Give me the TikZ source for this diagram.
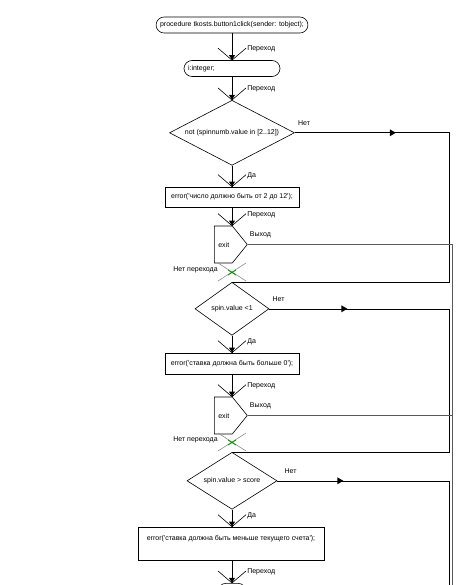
\documentclass[tikz,border=0pt]{standalone}
\usepackage{fontspec}
\setmainfont{Liberation Sans}
\usetikzlibrary{arrows.meta, shapes.geometric, shapes.symbols, decorations.markings}
\tikzset{
  kstart/.style={draw, rounded corners=8pt, minimum height=16pt, inner xsep=4pt},
  kbox/.style={draw, align=left, minimum height=20pt, inner xsep=6pt},
  kdecision/.style={draw, diamond, inner sep=0pt, anchor=north},
  kexit/.style={draw, signal, signal to=east, signal pointer angle=102, minimum height=37pt,
    text width=10pt, inner xsep=4pt, inner ysep=0pt, align=left, anchor=west},
  flow/.style={draw=black},
  rail/.style={draw=black!65},
  trans/.style={postaction={decorate}, decoration={markings, mark=at position 0.999 with {
      \fill (-5pt,3pt) -- (0,0) -- (-5pt,-3pt) -- cycle;
      \draw (-12pt,14pt) -- (0,0) -- (-12pt,-14pt);}}},
  nobranch/.style={postaction={decorate}, decoration={markings, mark=at position #1 with {
      \fill (-3pt,3.5pt) -- (3pt,0) -- (-3pt,-3.5pt) -- cycle;}}},
  lbl/.style={anchor=west, xshift=15pt, yshift=11pt, inner sep=0pt},
  nlbl/.style={anchor=west, xshift=3pt, yshift=10pt, inner sep=0pt},
  cross/.style={black!45},
  hit/.style={green!60!black, line width=0.8pt},
}

\begin{document}
\begin{tikzpicture}[x=1pt, y=-1pt, line width=0.6pt, font=\fontsize{7}{8.2}\selectfont]
  \useasboundingbox (0,0) rectangle (460,585);
  \clip (0,0) rectangle (460,585);
  % main column
  \node[kstart] (start) at (232,25) {procedure tkosts.button1click(sender: tobject);};
  \node[kstart, text width=88pt, align=left] (vars) at (232,68.5) {i:integer;};
  \node[kdecision, aspect=1.92, minimum width=125pt, minimum height=65pt] (chk1) at (232,100) {not (spinnumb.value in [2..12])};
  \node[kbox] (err1) at (232,197) {error(\textquotesingle число должно быть от 2 до 12\textquotesingle);};
  \node[kexit] (ex1) at (214,244.5) {exit};
  \coordinate (j1) at (232,282);
  \node[kdecision, aspect=1.4, minimum width=74pt, minimum height=53pt] (chk2) at (j1) {spin.value <1};
  \node[kbox, minimum height=21pt] (err2) at (232,363.5) {error(\textquotesingle ставка должна быть больше 0\textquotesingle);};
  \node[kexit] (ex2) at (214,415.5) {exit};
  \coordinate (j2) at (232,452);
  \node[kdecision, aspect=1.58, minimum width=90pt, minimum height=57pt] (chk3) at (j2) {spin.value > score};
  \node[kbox, minimum width=186pt, minimum height=33pt] (err3) at (231,543.5) {error(\textquotesingle ставка должна быть меньше текущего счета\textquotesingle);\\[1pt]\strut};
  \node[kstart, minimum width=28pt, anchor=north] (next) at (232,583) {};
  \coordinate (railA) at (449,585);
  \coordinate (railB) at (452.5,585);

  % transitions
  \draw[flow, trans] (start) -- (vars) node[at end, lbl]{Переход};
  \draw[flow, trans] (vars) -- (chk1) node[at end, lbl]{Переход};
  \draw[flow, trans] (chk1) -- (err1) node[at end, lbl]{Да};
  \draw[flow, trans] (err1.south) -- (err1.south |- ex1.north) node[at end, lbl]{Переход};
  \draw[flow, trans] (chk2) -- (err2) node[at end, lbl]{Да};
  \draw[flow, trans] (err2.south) -- (err2.south |- ex2.north) node[at end, lbl]{Переход};
  \draw[flow, trans] (chk3) -- (chk3 |- err3.north) node[at end, lbl]{Да};
  \draw[flow, trans] (err3.south -| next) -- (next) node[at end, lbl]{Переход};

  % junctions
  \draw[cross] (j1) ++(-14,-19) -- ++(28,18) (j1) ++(14,-19) -- ++(-28,18);
  \draw[hit] (j1) ++(-4,-12) -- ++(8,5) (j1) ++(4,-12) -- ++(-8,5);
  \node[anchor=east, inner sep=0pt] (skip1) at (218,270) {Нет перехода};
  \draw[cross] (j2) ++(-14,-19) -- ++(28,18) (j2) ++(14,-19) -- ++(-28,18);
  \draw[hit] (j2) ++(-4,-12) -- ++(8,5) (j2) ++(4,-12) -- ++(-8,5);
  \node[anchor=east, inner sep=0pt] (skip2) at (218,440) {Нет перехода};

  % branches to the right
  \draw[flow, nobranch=98pt] (chk1.east) node[nlbl]{Нет} -| (449,282) -- (j1);
  \draw[flow, nobranch=75pt] (chk2.east) node[nlbl]{Нет} -| (449,452) -- (j2);
  \draw[flow, nobranch=63pt] (chk3.east) node[nlbl, xshift=4pt]{Нет} -| (railA);
  \draw[rail] (ex1.east) node[nlbl, xshift=-1pt]{Выход} -| (railB);
  \draw[rail] (ex2.east) node[nlbl, xshift=-1pt]{Выход} -- (ex2.east -| railB);
\end{tikzpicture}
\end{document}
